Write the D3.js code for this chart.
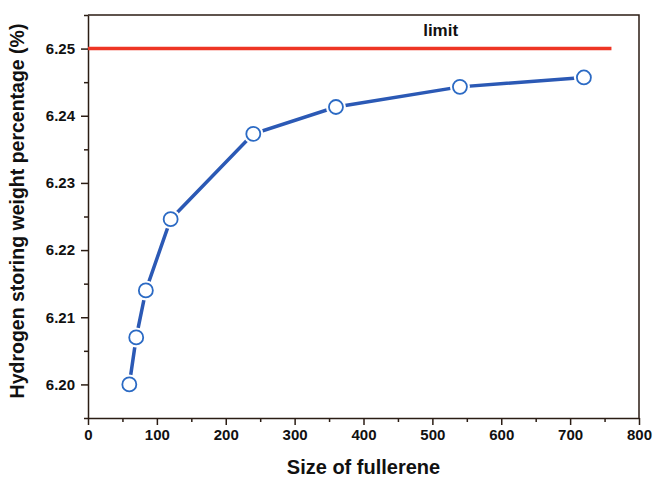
<!DOCTYPE html>
<html>
<head>
<meta charset="utf-8">
<script src="https://cdn.jsdelivr.net/npm/d3@7"></script>
<style>
  body { margin: 0; background: #fff; }
  text { font-family: "Liberation Sans", Arial, sans-serif; font-weight: bold; fill: #111; }
</style>
</head>
<body>
<div id="chart"></div>
<script>
// data
const sizes = [60, 70, 84, 120, 240, 360, 540, 720];
const weights = [6.2000, 6.2070, 6.2140, 6.2246, 6.2373, 6.2413, 6.2443, 6.2457];
const limitValue = 6.25;
const limitRange = [0, 760];
const xTicks = [0, 100, 200, 300, 400, 500, 600, 700, 800];
const yTicks = [6.20, 6.21, 6.22, 6.23, 6.24, 6.25];

const margin = {top: 15, right: 15, bottom: 63, left: 88},
  width = 654 - margin.left - margin.right,
  height = 481 - margin.top - margin.bottom;

const svg = d3.select("#chart")
  .append("svg")
    .attr("width", 654)
    .attr("height", 481)
  .append("g")
    .attr("transform", "translate(" + margin.left + "," + margin.top + ")");

const x = d3.scaleLinear().domain([0, 800]).range([0, width]);
const y = d3.scaleLinear().domain([6.195, 6.255]).range([height, 0]);

const axisColor = "#2b1d14";

// minor ticks
svg.append("g")
  .attr("transform", "translate(0," + height + ")")
  .call(d3.axisBottom(x).tickValues(d3.range(50, 800, 100)).tickSize(4).tickFormat(""))
  .call(g => g.select(".domain").remove())
  .selectAll("line").attr("stroke", axisColor).attr("stroke-width", 1.5);
svg.append("g")
  .call(d3.axisLeft(y).tickValues(d3.range(6.195, 6.2551, 0.01)).tickSize(4).tickFormat(""))
  .call(g => g.select(".domain").remove())
  .selectAll("line").attr("stroke", axisColor).attr("stroke-width", 1.5);

// major axes
const xAxis = svg.append("g")
  .attr("transform", "translate(0," + height + ")")
  .call(d3.axisBottom(x).tickValues(xTicks).tickSize(7).tickSizeOuter(0).tickPadding(4));
const yAxis = svg.append("g")
  .call(d3.axisLeft(y).tickValues(yTicks).tickSize(7).tickSizeOuter(0).tickPadding(6)
    .tickFormat(d3.format(".2f")));

[xAxis, yAxis].forEach(a => {
  a.selectAll("line").attr("stroke", axisColor).attr("stroke-width", 1.5);
  a.select(".domain").attr("stroke", axisColor).attr("stroke-width", 1.5);
  a.selectAll("text").style("font-size", "15px").attr("fill", "#111");
});

// top and right frame
svg.append("path")
  .attr("d", "M0,0H" + width + "V" + height)
  .attr("fill", "none")
  .attr("stroke", axisColor)
  .attr("stroke-width", 1.5);

// limit line
svg.append("line")
  .attr("x1", x(limitRange[0]))
  .attr("x2", x(limitRange[1]))
  .attr("y1", y(limitValue))
  .attr("y2", y(limitValue))
  .attr("stroke", "#ee3524")
  .attr("stroke-width", 3.5);

svg.append("text")
  .attr("x", x(512))
  .attr("y", y(limitValue) - 13)
  .attr("text-anchor", "middle")
  .style("font-size", "17px")
  .text("limit");

// data line
const pts = sizes.map((s, i) => ({x: s, y: weights[i]}));
svg.append("path")
  .datum(pts)
  .attr("fill", "none")
  .attr("stroke", "#2b59b5")
  .attr("stroke-width", 3.5)
  .attr("d", d3.line().x(d => x(d.x)).y(d => y(d.y)));

// white halo to leave a gap round each marker
svg.selectAll(".halo")
  .data(pts)
  .enter()
  .append("circle")
    .attr("class", "halo")
    .attr("cx", d => x(d.x))
    .attr("cy", d => y(d.y))
    .attr("r", 10)
    .attr("fill", "#fff");

svg.selectAll(".dot")
  .data(pts)
  .enter()
  .append("circle")
    .attr("class", "dot")
    .attr("cx", d => x(d.x))
    .attr("cy", d => y(d.y))
    .attr("r", 7)
    .attr("fill", "#fff")
    .attr("stroke", "#2b6ac4")
    .attr("stroke-width", 1.8);

// axis titles
svg.append("text")
  .attr("x", x(400))
  .attr("y", height + 56)
  .attr("text-anchor", "middle")
  .style("font-size", "20px")
  .text("Size of fullerene");

svg.append("text")
  .attr("transform", "translate(" + (-64) + "," + (211 - margin.top) + ") rotate(-90)")
  .attr("text-anchor", "middle")
  .style("font-size", "19.5px")
  .text("Hydrogen storing weight percentage (%)");
</script>
</body>
</html>
